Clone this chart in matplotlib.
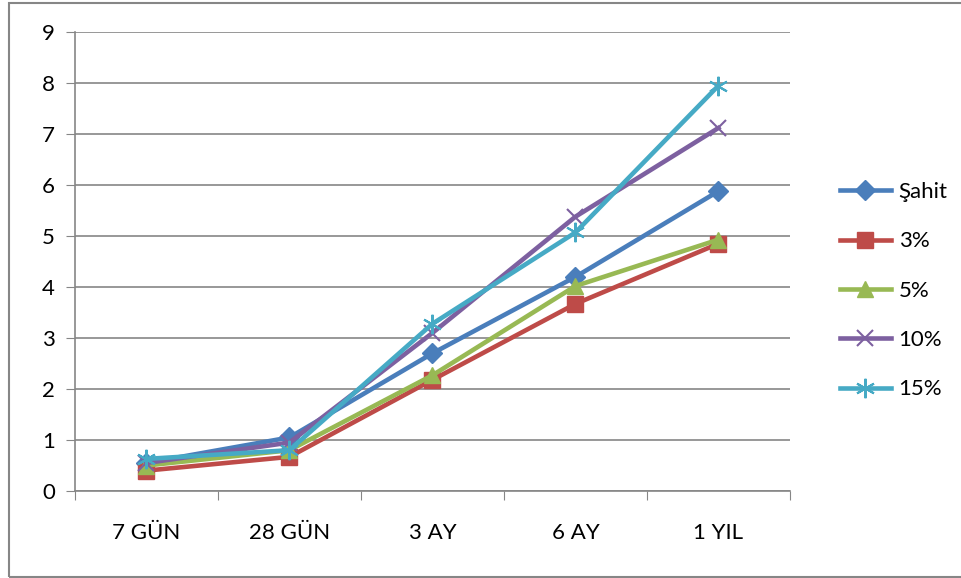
from matplotlib import pyplot as plt
from matplotlib.patches import Rectangle
import numpy as np

categories = ["7 GÜN", "28 GÜN", "3 AY", "6 AY", "1 YIL"]
sahit = [0.55, 1.05, 2.70, 4.20, 5.88]
p3 = [0.40, 0.67, 2.18, 3.67, 4.85]
p5 = [0.50, 0.80, 2.27, 4.02, 4.93]
p10 = [0.55, 0.95, 3.10, 5.38, 7.12]
p15 = [0.63, 0.80, 3.28, 5.07, 7.95]

plt.rcParams['font.family'] = ['Lato', 'DejaVu Sans']

fig = plt.figure(figsize=(9.61, 5.78), dpi=100)
ax = fig.add_axes([0.078, 0.1505, 0.744, 0.794])
x = np.arange(len(categories))

series = [
    ("Şahit", sahit, "#4A7EBB", "D", 10),
    ("3%", p3, "#BE4B48", "s", 11),
    ("5%", p5, "#98B954", "^", 12),
    ("10%", p10, "#7D60A0", "x", 11),
    ("15%", p15, "#46AAC5", (6, 2, 0), 14),
]
for name, vals, col, mk, ms in series:
    ax.plot(x, vals, color=col, lw=3.3, marker=mk, ms=ms, mew=1.5 if mk in ("x", (6, 2, 0)) else 1,
            mec=col, mfc=col, label=name)

ax.set_xlim(-0.5, 4.5)
ax.set_ylim(0, 9)
ax.set_yticks(range(10))
ax.set_xticks(np.arange(-0.5, 5, 1))
ax.set_xticklabels([])
ax.set_xticks(x, minor=True)
ax.set_xticklabels(categories, minor=True)
ax.tick_params(axis='x', which='minor', length=0, pad=23, labelsize=16)
ax.tick_params(axis='x', which='major', length=6.5, direction='out', color='#868686')
ax.tick_params(axis='y', length=6.5, direction='out', color='#868686', labelsize=16, pad=8)
ax.grid(axis='y', color='#868686', lw=1.2)
ax.set_axisbelow(True)
for s in ('top', 'right'):
    ax.spines[s].set_visible(False)
for s in ('left', 'bottom'):
    ax.spines[s].set_color('#868686')
    ax.spines[s].set_linewidth(1.2)

fig.legend(loc='center left', bbox_to_anchor=(0.853, 0.497), frameon=False, fontsize=16,
           handlelength=2.3, labelspacing=1.32, handletextpad=0.35)

fig.add_artist(Rectangle((0.009, 0.002), 1.1, 0.993, transform=fig.transFigure,
                         fill=False, ec='#868686', lw=1.5, clip_on=False))

fig.savefig("out.png", dpi=100)
